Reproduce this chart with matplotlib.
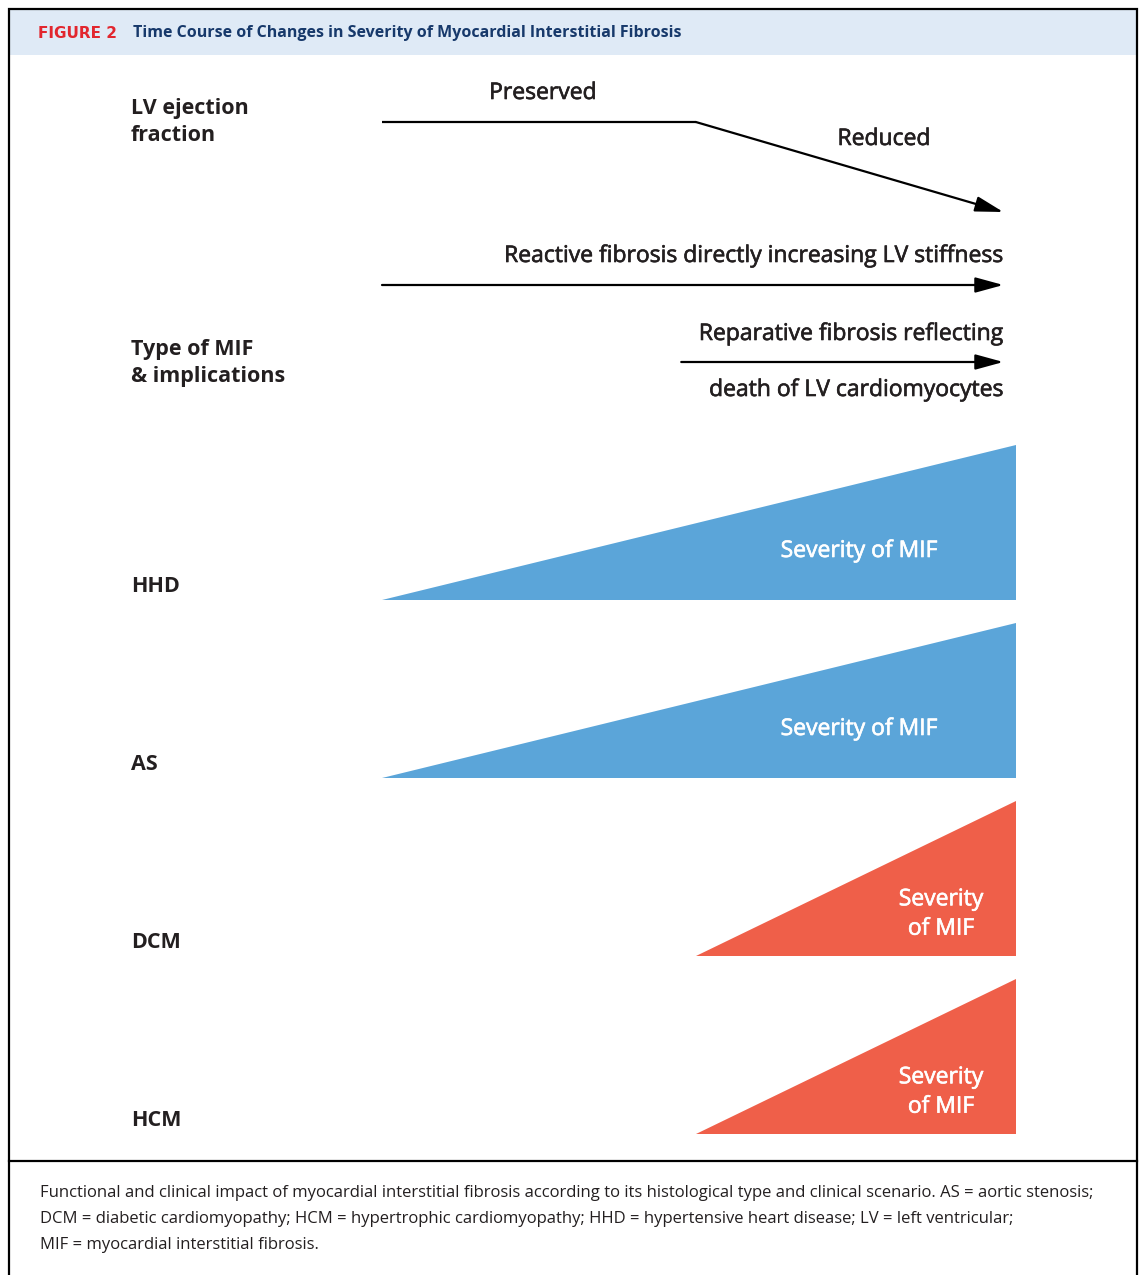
import matplotlib.pyplot as plt
import matplotlib.patheffects as pe
from matplotlib.patches import Rectangle, Polygon, FancyArrowPatch

# rows of the diagram
diseases = ['HHD', 'AS', 'DCM', 'HCM']
fibrosis_onset = [0.0, 0.0, 0.495, 0.495]   # fraction of time course when MIF starts
fibrosis_peak = [1.0, 1.0, 1.0, 1.0]        # relative severity at end of time course
fibrosis_kind = ['reactive', 'reactive', 'reparative', 'reparative']
severity_text = ['Severity of MIF', 'Severity of MIF', 'Severity\nof MIF', 'Severity\nof MIF']

# LV ejection fraction course (time, level)
ef_time = [0.0, 0.495, 0.98]
ef_level = [1.0, 1.0, 0.0]
ef_labels = ['Preserved', 'Reduced']

# MIF type arrows (start, end)
reactive_span = [0.0, 0.98]
reparative_span = [0.472, 0.98]

caption = ("Functional and clinical impact of myocardial interstitial fibrosis according to its histological type and clinical scenario. AS = aortic stenosis;\n"
           "DCM = diabetic cardiomyopathy; HCM = hypertrophic cardiomyopathy; HHD = hypertensive heart disease; LV = left ventricular;\n"
           "MIF = myocardial interstitial fibrosis.")

W, H = 1142, 1275
BLUE = '#5ba5d9'
RED = '#ef5f49'
TXT = '#231f20'
FONT = 'Open Sans'
plt.rcParams['font.family'] = [FONT, 'DejaVu Sans']

# fake a medium weight by stroking the glyphs slightly
def med(col):
    return [pe.withStroke(linewidth=0.45, foreground=col)]

fig = plt.figure(figsize=(W / 100, H / 100), dpi=100)
ax = fig.add_axes([0, 0, 1, 1])
ax.set_xlim(0, W)
ax.set_ylim(H, 0)
ax.axis('off')

# time axis -> pixel x
T0, T1 = 382, 1016
def tx(t):
    return T0 + t * (T1 - T0)

# frame, header band
ax.add_patch(Rectangle((10, 10), 1126, 45, facecolor='#dfeaf6', edgecolor='none'))
ax.plot([9, 9, 1137, 1137], [H + 5, 9, 9, H + 5], color='black', lw=1.6, solid_joinstyle='miter')
ax.plot([9, 1137], [1161, 1161], color='black', lw=1.6)
ax.text(38, 34, 'FIGURE 2', color='#e2262e', fontsize=11, fontweight='bold', va='center',
        family='DejaVu Sans')
ax.text(133, 33, 'Time Course of Changes in Severity of Myocardial Interstitial Fibrosis',
        color='#17396b', fontsize=11.5, fontweight='bold', va='center')

# left labels
ax.text(131, 122, 'LV ejection\nfraction', fontsize=15.5, fontweight='bold', color=TXT,
        va='center', linespacing=1.42)
ax.text(131, 363, 'Type of MIF\n& implications', fontsize=15.5, fontweight='bold', color=TXT,
        va='center', linespacing=1.42)

row_base = [600, 778, 956, 1134]
row_height = 155
for name, base in zip(diseases, row_base):
    ax.text(131, base - 14, name, fontsize=15.5, fontweight='bold', color=TXT, va='center')

AST = '-|>,head_length=0.95,head_width=0.26'

# EF course
ef_y0, ef_y1 = 212, 122
ef_px = [tx(t) for t in ef_time]
ef_py = [ef_y0 + l * (ef_y1 - ef_y0) for l in ef_level]
ax.plot(ef_px[:2], ef_py[:2], color='black', lw=1.6, solid_capstyle='butt')
ax.add_patch(FancyArrowPatch((ef_px[1], ef_py[1]), (ef_px[2], ef_py[2]),
                             arrowstyle=AST, mutation_scale=18, color='black', lw=1.6,
                             shrinkA=0, shrinkB=0))
ax.text((ef_px[0] + ef_px[1]) / 2 + 4, 93, ef_labels[0], fontsize=16.5, color=TXT,
        ha='center', va='center', path_effects=med(TXT))
ax.text(884, 139, ef_labels[1], fontsize=16.5, color=TXT, ha='center', va='center',
        path_effects=med(TXT))

# MIF type arrows
def arrow(span, y):
    ax.add_patch(FancyArrowPatch((tx(span[0]), y), (tx(span[1]), y),
                                 arrowstyle=AST, mutation_scale=18, color='black', lw=1.6,
                                 shrinkA=0, shrinkB=0))

arrow(reactive_span, 285)
ax.text(tx(reactive_span[1]), 256, 'Reactive fibrosis directly increasing LV stiffness',
        fontsize=16.5, color=TXT, ha='right', va='center', path_effects=med(TXT))
arrow(reparative_span, 362)
ax.text(tx(reparative_span[1]), 334, 'Reparative fibrosis reflecting',
        fontsize=16.5, color=TXT, ha='right', va='center', path_effects=med(TXT))
ax.text(tx(reparative_span[1]), 390, 'death of LV cardiomyocytes',
        fontsize=16.5, color=TXT, ha='right', va='center', path_effects=med(TXT))

# severity wedges
for base, t0, peak, kind, lab in zip(row_base, fibrosis_onset, fibrosis_peak,
                                     fibrosis_kind, severity_text):
    col = BLUE if kind == 'reactive' else RED
    pts = [(tx(t0), base), (tx(1.0), base), (tx(1.0), base - peak * row_height)]
    ax.add_patch(Polygon(pts, closed=True, facecolor=col, edgecolor='none'))
    if '\n' in lab:
        ax.text(941, base - 42, lab, fontsize=16.5, color='white', ha='center', va='center',
                linespacing=1.3, path_effects=med('white'))
    else:
        ax.text(859, base - 49, lab, fontsize=16.5, color='white', ha='center', va='center',
                path_effects=med('white'))

ax.text(40, 1219, caption, fontsize=12, color=TXT, va='center', linespacing=1.82)

fig.savefig('out.png', dpi=100)
